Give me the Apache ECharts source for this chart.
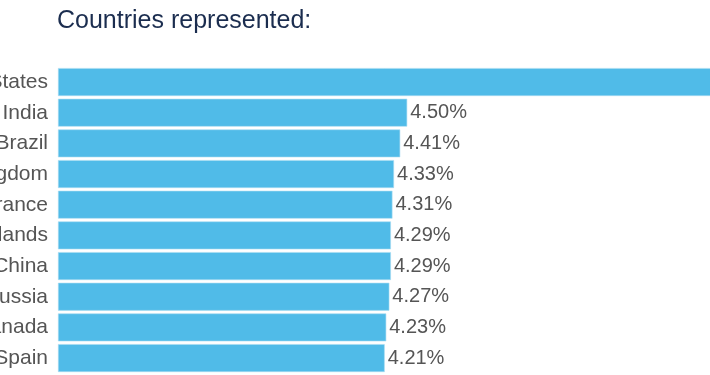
<!DOCTYPE html>
<html>
<head>
<meta charset="utf-8">
<script src="https://cdn.jsdelivr.net/npm/echarts@6/dist/echarts.min.js"></script>
<style>html,body{margin:0;padding:0;background:#fff}#c{width:710px;height:375px}</style>
</head>
<body>
<div id="c"></div>
<script>
var categories = ["United States","India","Brazil","United Kingdom","France","Netherlands","China","Russia","Canada","Spain"];
var values = [9.8, 4.50, 4.41, 4.33, 4.31, 4.29, 4.29, 4.27, 4.23, 4.21];
var chart = echarts.init(document.getElementById('c'));
chart.setOption({
  animation: false,
  title: {
    text: 'Countries represented:',
    left: 52, top: 4,
    textStyle: {fontFamily: 'Liberation Sans', fontSize: 25, fontWeight: 'normal', color: '#1b2d4f'}
  },
  grid: {left: 58, right: -124, top: 66.7, bottom: 1.6, containLabel: false, outerBoundsMode: 'none'},
  xAxis: {type: 'value', min: 0, max: 10, show: false},
  yAxis: {
    type: 'category', data: categories, inverse: true,
    axisLine: {show: false}, axisTick: {show: false},
    axisLabel: {margin: 10, fontFamily: 'Liberation Sans', fontSize: 21, color: '#555555'}
  },
  series: [{
    type: 'bar', data: values, barCategoryGap: '9%',
    itemStyle: {color: '#50bbe8', borderColor: '#a9dcf2', borderWidth: 0.6},
    label: {
      show: true, position: 'right', distance: 3,
      formatter: function(p){ return p.value.toFixed(2) + '%'; },
      fontFamily: 'Liberation Sans', fontSize: 20, color: '#555555'
    }
  }]
});
</script>
</body>
</html>
